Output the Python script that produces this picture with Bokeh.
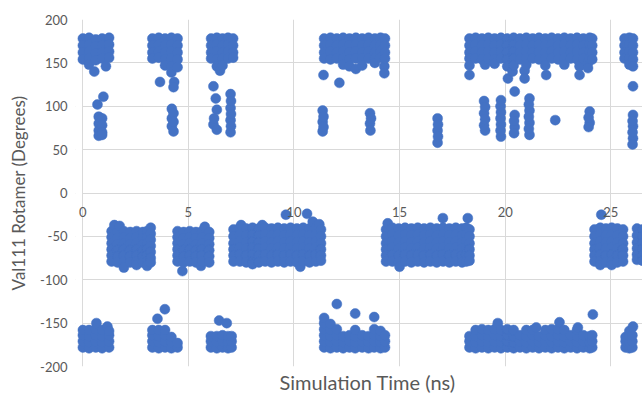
from bokeh.plotting import figure
from bokeh.models import Range1d, FixedTicker, ColumnDataSource, Label, Title, BoxAnnotation
from bokeh.embed import file_html
from bokeh.resources import INLINE

# ---- data: (simulation time in ns, [Val111 rotamer angles in degrees]) ----
# upper rotamer state (~ +165) and its ~ +80 sub-state
up_1 = [(0.01, [178, 170, 162, 154]), (0.3, [179, 171, 163, 155, 148]), (0.55, [140]),
        (0.62, [177, 169, 161, 153]), (0.92, [178, 170, 162, 155]), (1.1, [146]),
        (1.25, [179, 171, 163, 156])]
up_1b = [(0.70, [102]), (0.98, [111]), (0.76, [88, 80, 72, 66]), (0.92, [86, 78, 70, 67])]
up_2 = [(3.30, [178, 170, 162, 155]), (3.6, [179, 171, 163, 156]), (3.66, [128]),
        (3.9, [178, 170, 162, 154, 147]), (4.2, [179, 171, 163, 155, 146, 139]),
        (4.33, [128]), (4.30, [122]), (4.49, [178, 170, 162, 154, 145])]
up_2b = [(4.22, [97, 86, 77]), (4.30, [92, 82, 71])]
up_3 = [(6.08, [178, 170, 162, 155]), (6.35, [179, 171, 163, 154, 146]), (6.5, [141]),
        (6.62, [178, 170, 162, 155, 147]), (6.88, [179, 171, 163, 155]),
        (7.12, [178, 170, 162, 156])]
up_3b = [(6.19, [123, 79]), (6.30, [109]), (6.35, [96, 73]), (6.22, [86]),
         (7.0, [114, 98, 84, 70]), (7.02, [106, 91, 77])]
up_4 = [(11.43, [178, 170, 162, 155]), (11.4, [136]), (11.73, [179, 171, 163, 154]),
        (12.03, [178, 170, 162, 155]), (12.15, [127]), (12.33, [179, 171, 163, 155, 148]),
        (12.63, [178, 170, 162, 154, 146]), (12.93, [179, 171, 163, 155, 143]),
        (13.23, [178, 170, 162, 155, 147]), (13.53, [179, 171, 163, 155]),
        (13.83, [178, 170, 162, 155, 150]), (14.1, [179, 171, 163, 156]),
        (14.28, [146, 138]), (14.31, [178, 170, 162, 155])]
up_4b = [(11.36, [95, 82, 71]), (11.4, [88, 76]), (13.6, [92, 80]), (13.65, [86]),
         (13.62, [72]), (16.8, [86, 72, 58]), (16.82, [79, 65])]
up_5 = [(18.31, [178, 170, 162, 155, 147, 136]), (18.6, [179, 171, 163, 155]),
        (18.9, [178, 170, 162, 154]), (19.05, [148]), (19.2, [179, 171, 163, 155]),
        (19.5, [178, 170, 162, 154, 149]), (19.8, [179, 171, 163, 155]),
        (20.1, [178, 170, 162, 154, 146]), (20.13, [132]), (20.35, [140]),
        (20.4, [179, 171, 163, 155, 147]), (20.7, [178, 170, 162, 154]),
        (20.92, [141, 132]), (21.0, [179, 171, 163, 155, 148]), (21.3, [178, 170, 162, 155]),
        (21.6, [179, 171, 163, 154]), (21.9, [178, 170, 162, 155, 147]), (21.94, [136]),
        (22.2, [179, 171, 163, 155]), (22.5, [178, 170, 162, 154]),
        (22.8, [179, 171, 163, 155, 148]), (23.1, [178, 170, 162, 155]),
        (23.4, [179, 171, 163, 154]), (23.52, [146, 136]), (23.7, [178, 170, 162, 155]),
        (23.92, [150, 144]), (24.0, [179, 171, 163, 155]), (24.12, [178, 170, 162, 154])]
up_5b = [(19.0, [106, 92, 78]), (19.05, [99, 85, 72]), (19.8, [107, 93, 79, 65]),
         (19.78, [100, 86, 72]), (20.45, [117, 90, 76]), (20.42, [83, 69]),
         (21.15, [109, 95, 81, 67]), (21.12, [102, 88, 74]), (22.37, [84]),
         (24.0, [94, 81]), (23.95, [87, 76])]
up_6 = [(25.65, [178, 170, 162, 155]), (25.88, [179, 171, 163, 155, 148]),
        (26.05, [178, 170, 162, 154, 146, 123]), (26.05, [90, 77, 63]), (26.03, [83, 70, 56])]

# middle rotamer state (~ -60)
mid_1 = [(1.37, [-44, -51, -58, -65, -72, -79]), (1.5, [-37]),
         (1.65, [-45, -52, -59, -66, -73, -80]), (1.75, [-38]),
         (1.95, [-44, -51, -58, -65, -72, -79, -86]), (2.25, [-45, -52, -59, -66, -73, -80]),
         (2.55, [-44, -51, -58, -65, -72, -79, -83]), (2.85, [-45, -52, -59, -66, -73, -80]),
         (3.05, [-44, -51, -58, -65, -72, -79, -84]), (3.22, [-40, -47, -54, -61, -68, -75, -80])]
mid_2 = [(4.49, [-44, -51, -58, -65, -72, -79]), (4.72, [-90]),
         (4.78, [-45, -52, -59, -66, -73, -80]), (5.07, [-44, -51, -58, -65, -72, -79]),
         (5.36, [-45, -52, -59, -66, -73, -80]), (5.6, [-84]),
         (5.65, [-44, -51, -58, -65, -72, -79]), (5.78, [-39]),
         (5.99, [-45, -52, -59, -66, -73, -80])]
mid_3 = [(7.14, [-42, -50, -58, -65, -72, -79]), (7.44, [-40, -48, -56, -63, -71, -79]),
         (7.5, [-37]), (7.74, [-41, -49, -57, -64, -72, -80]),
         (8.04, [-40, -48, -56, -63, -71, -79, -82]), (8.34, [-41, -49, -57, -64, -72, -80]),
         (8.5, [-37]), (8.64, [-40, -48, -56, -63, -71, -79]),
         (8.94, [-41, -49, -57, -64, -72, -80]), (9.24, [-40, -48, -56, -63, -71, -79]),
         (9.54, [-41, -49, -57, -64, -72, -80]), (9.62, [-25]),
         (9.84, [-40, -48, -56, -63, -71, -79]), (10.14, [-41, -49, -57, -64, -72, -80]),
         (10.3, [-85]), (10.44, [-40, -48, -56, -63, -71, -79]), (10.62, [-24]),
         (10.74, [-41, -49, -57, -64, -72, -80]), (10.89, [-33]),
         (11.04, [-40, -48, -56, -63, -71, -79]), (11.2, [-36]),
         (11.28, [-42, -50, -58, -65, -72, -78])]
mid_4 = [(14.36, [-42, -50, -58, -65, -72, -79]), (14.44, [-35]),
         (14.66, [-40, -48, -56, -63, -71, -79]), (14.96, [-41, -49, -57, -64, -72, -80]),
         (15.0, [-85]), (15.26, [-40, -48, -56, -63, -71, -79]),
         (15.56, [-41, -49, -57, -64, -72, -80]), (15.86, [-40, -48, -56, -63, -71, -79]),
         (16.16, [-41, -49, -57, -64, -72, -80]), (16.46, [-40, -48, -56, -63, -71, -79]),
         (16.76, [-41, -49, -57, -64, -72, -80]), (17.05, [-29]),
         (17.06, [-40, -48, -56, -63, -71, -79]), (17.36, [-41, -49, -57, -64, -72, -80]),
         (17.66, [-40, -48, -56, -63, -71, -79]), (17.96, [-41, -49, -57, -64, -72, -80]),
         (18.16, [-40, -48, -56, -63, -71, -79]), (18.23, [-29]),
         (18.31, [-42, -50, -58, -65, -72, -78])]
mid_5 = [(24.23, [-42, -50, -58, -65, -72, -79]), (24.5, [-40, -48, -56, -63, -71, -79, -83]),
         (24.55, [-25]), (24.77, [-41, -49, -57, -64, -72, -80]),
         (25.04, [-40, -48, -56, -63, -71, -79, -83]), (25.31, [-41, -49, -57, -64, -72, -80]),
         (25.58, [-42, -50, -58, -65, -72, -79]), (26.24, [-41, -49, -57, -64, -71, -77]),
         (26.5, [-42, -50, -58, -65, -72, -78])]

# lower rotamer state (~ -170)
low_1 = [(0.01, [-178, -171, -164, -158]), (0.3, [-179, -172, -165, -158]),
         (0.62, [-178, -171, -164, -157]), (0.65, [-150]), (0.92, [-179, -172, -165, -158]),
         (1.17, [-154]), (1.25, [-178, -171, -164, -159])]
low_2 = [(3.30, [-178, -171, -164, -158]), (3.54, [-145]), (3.6, [-179, -172, -165, -158]),
         (3.89, [-134]), (3.9, [-178, -171, -164, -158]), (4.2, [-179, -172, -166]),
         (4.49, [-178, -173])]
low_3 = [(6.07, [-178, -171, -165]), (6.35, [-179, -172, -165]), (6.46, [-147]),
         (6.62, [-178, -171, -164]), (6.82, [-150]), (6.88, [-179, -172, -165]),
         (7.05, [-178, -171, -165])]
low_4 = [(11.43, [-178, -171, -164, -157, -150, -144]), (11.73, [-179, -172, -165, -158, -151]),
         (12.03, [-178, -171, -164, -157, -128]), (12.33, [-179, -172, -165]),
         (12.63, [-178, -171, -164]), (12.9, [-179, -172, -165, -158, -139]),
         (13.23, [-178, -171, -164]), (13.53, [-179, -172, -165]),
         (13.8, [-178, -171, -164, -157, -143]), (14.1, [-179, -172, -165, -159]),
         (14.31, [-178, -171, -164])]
low_5 = [(18.31, [-178, -171, -165]), (18.6, [-179, -172, -165, -158]),
         (18.9, [-178, -171, -164, -157]), (19.2, [-179, -172, -165, -158]),
         (19.5, [-178, -171, -164, -157]), (19.65, [-150]), (19.8, [-179, -172, -165, -158]),
         (20.1, [-178, -171, -164, -157]), (20.4, [-179, -172, -165, -158]),
         (20.7, [-178, -171, -164]), (21.0, [-179, -172, -165, -158]),
         (21.3, [-178, -171, -164, -158]), (21.47, [-155]), (21.6, [-179, -172, -165]),
         (21.9, [-178, -171, -164, -158]), (22.2, [-179, -172, -165, -157]),
         (22.5, [-178, -171, -164, -157]), (22.57, [-149]), (22.8, [-179, -172, -165, -158]),
         (23.1, [-178, -171, -164]), (23.4, [-179, -172, -165, -158]), (23.44, [-155]),
         (23.7, [-178, -171, -164]), (24.0, [-179, -172, -165]), (24.12, [-178, -171, -164]),
         (24.15, [-140])]
low_6 = [(25.7, [-178, -171, -166]), (25.88, [-179, -172, -165, -159]),
         (26.02, [-178, -171, -164]), (26.05, [-154])]

x_ticks = [0, 5, 10, 15, 20, 25]
x_tick_labels = ["0", "5", "10", "15", "20", "25"]
y_ticks = [-200, -150, -100, -50, 0, 50, 100, 150, 200]
y_tick_labels = ["-200", "-150", "-100", "-50", "0", "50", "100", "150", "200"]

groups = [up_1, up_1b, up_2, up_2b, up_3, up_3b, up_4, up_4b, up_5, up_5b, up_6,
          mid_1, mid_2, mid_3, mid_4, mid_5,
          low_1, low_2, low_3, low_4, low_5, low_6]

times, angles = [], []
for g in groups:
    for t, angs in g:
        for a in angs:
            times.append(t)
            angles.append(a)
source = ColumnDataSource(dict(t=times, a=angles))

FONT = "Lato"
TXT = "#595959"
GRID = "#d9d9d9"

p = figure(width=642, height=394, output_backend="svg", toolbar_location=None,
           x_range=Range1d(-0.34, 26.5), y_range=Range1d(-200, 200),
           min_border_left=75, min_border_right=0, min_border_top=19, min_border_bottom=28)
p.outline_line_color = None
p.background_fill_color = "white"
p.border_fill_color = "white"

# grid
p.xgrid.ticker = FixedTicker(ticks=x_ticks)
p.ygrid.ticker = FixedTicker(ticks=y_ticks)
p.grid.grid_line_color = GRID
p.grid.grid_line_width = 1
# the grid starts at t = 0: mask the small strip left of it
p.add_layout(BoxAnnotation(right=-0.03, fill_color="white", fill_alpha=1,
                           line_color=None, level="underlay"))

p.scatter("t", "a", source=source, size=10, marker="circle",
          fill_color="#4472C4", line_color="#4472C4", line_width=0.5)

# y axis
ya = p.yaxis[0]
ya.ticker = FixedTicker(ticks=y_ticks)
ya.major_label_overrides = dict(zip(y_ticks, y_tick_labels))
ya.axis_line_color = None
ya.major_tick_line_color = None
ya.minor_tick_line_color = None
ya.major_tick_out = 0
ya.major_tick_in = 0
ya.major_label_standoff = 8
ya.major_label_text_font = FONT
ya.major_label_text_font_size = "13px"
ya.major_label_text_color = TXT
ya.axis_label = "Val111 Rotamer (Degrees)"
ya.axis_label_text_font = FONT
ya.axis_label_text_font_size = "17px"
ya.axis_label_text_font_style = "normal"
ya.axis_label_text_color = TXT
ya.axis_label_standoff = 8

# bottom axis hidden; x tick labels sit on the zero line, title below the frame
p.xaxis.visible = False
for tv, tl in zip(x_ticks, x_tick_labels):
    p.add_layout(Label(x=tv, y=0, text=tl, y_offset=-19, text_align="center",
                       text_baseline="middle", text_font=FONT, text_font_size="13px",
                       text_color=TXT))
p.add_layout(Title(text="Simulation Time (ns)", align="left", offset=204,
                   vertical_align="bottom", standoff=2, text_font=FONT,
                   text_font_size="20px", text_font_style="normal", text_color=TXT),
             "below")

open("out.html", "w").write(file_html(p, INLINE))
